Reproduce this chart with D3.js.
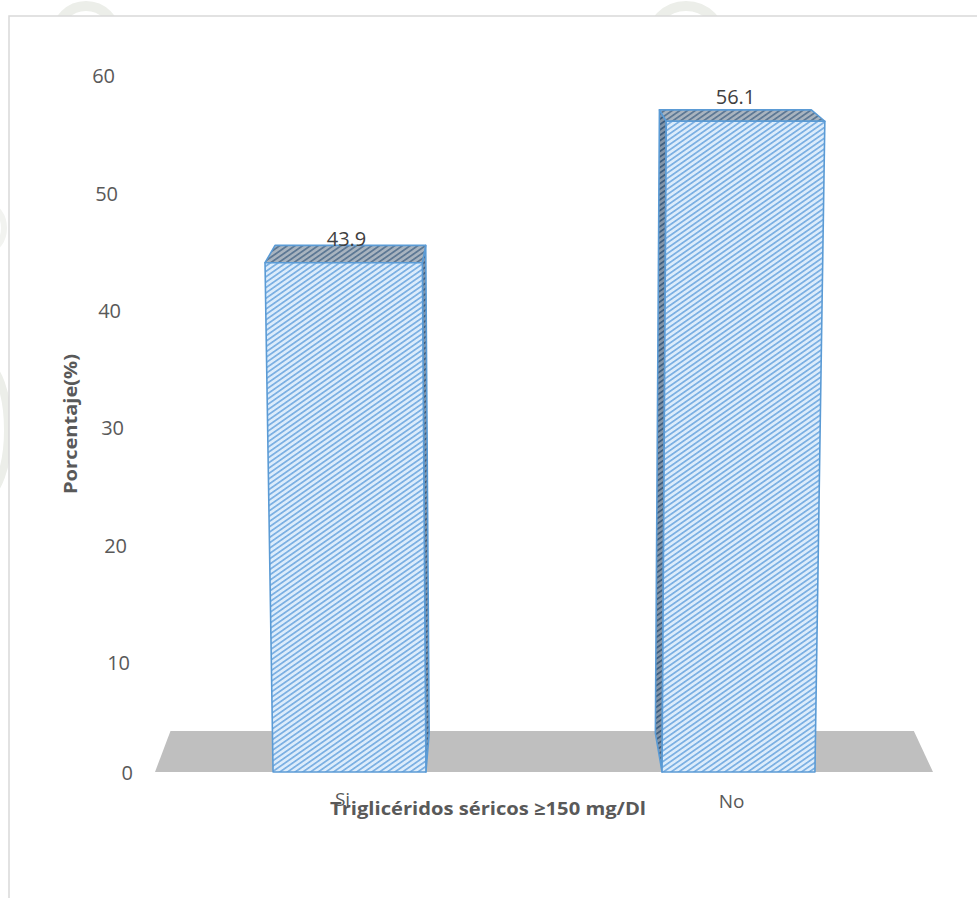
<!DOCTYPE html>
<html>
<head>
<meta charset="utf-8">
<script src="https://cdn.jsdelivr.net/npm/d3@7"></script>
<style>
  html, body { margin: 0; padding: 0; background: #fff; }
  svg { display: block; font-family: "Open Sans", Lato, sans-serif; }
</style>
</head>
<body>
<svg id="chart" width="977" height="898"></svg>
<script>
// ---- data ----
const categories = ["Si", "No"];
const values = [43.9, 56.1];
const yTicks = [0, 10, 20, 30, 40, 50, 60];
const yTitle = "Porcentaje(%)";
const xTitle = "Triglicéridos séricos ≥150 mg/Dl";

const W = 977, H = 898;
const svg = d3.select("#chart");

// ---- scales (front plane of the 3D box) ----
const base = 772;
const x = d3.scaleBand().domain(categories).range([155, 933])
  .paddingInner(0.607).paddingOuter(0.3035);
const y = d3.scaleLinear().domain([0, 60]).range([base, 76]);
// value axis labels sit on a slanted line in perspective
const tickY = d3.scaleLinear().domain([0, 10, 60]).range([773, 663, 76]);
const tickX = d3.scaleLinear().domain([0, 60]).range([133, 115]);

// ---- perspective helpers ----
const vertVP = { x: 549, y: 18250 };   // vertical edges converge far below
const depthVP = { x: 503, y: -150 };   // receding edges converge above
const barDepth = 0.042, floorDepth = 0.0445;
function front(X, Y) {
  const g = (vertVP.y - Y) / (vertVP.y - base);
  return [vertVP.x + (X - vertVP.x) * g, Y];
}
function back(p, k) {
  return [p[0] + (depthVP.x - p[0]) * k, p[1] + (depthVP.y - p[1]) * k];
}
const poly = d3.line();

// ---- patterns ----
const defs = svg.append("defs");
function hatch(id, bg, fg, size, sw) {
  const p = defs.append("pattern").attr("id", id)
    .attr("patternUnits", "userSpaceOnUse")
    .attr("width", size).attr("height", size)
    .attr("patternTransform", "rotate(-35)");
  p.append("rect").attr("width", size).attr("height", size).attr("fill", bg);
  p.append("rect").attr("width", size).attr("height", sw).attr("fill", fg);
}
hatch("hFront", "#dcecfb", "#79aee2", 4.4, 1.7);
hatch("hTop", "#a9b4bf", "#5d7894", 4.4, 1.8);
hatch("hSide", "#8596a8", "#3f5f80", 4.4, 1.8);

// ---- faint seal watermark behind the frame ----
const wm = svg.append("g").attr("fill", "none").attr("stroke", "#eceee9");
wm.append("circle").attr("cx", 86).attr("cy", 36).attr("r", 30).attr("stroke-width", 10);
wm.append("circle").attr("cx", 686).attr("cy", 42).attr("r", 36).attr("stroke-width", 10);
wm.append("ellipse").attr("cx", -16).attr("cy", 430).attr("rx", 24).attr("ry", 66).attr("stroke-width", 8);
wm.append("ellipse").attr("cx", -12).attr("cy", 228).attr("rx", 16).attr("ry", 22).attr("stroke-width", 6).attr("stroke", "#f2f3f0");

// ---- chart frame ----
svg.append("rect").attr("x", 9).attr("y", 16).attr("width", W).attr("height", H)
  .attr("fill", "#fff").attr("stroke", "#d9d9d9").attr("stroke-width", 1.5);

// ---- floor ----
const fl = [front(x.range()[0], base), front(x.range()[1], base)];
svg.append("path")
  .attr("d", poly([fl[0], fl[1], back(fl[1], floorDepth), back(fl[0], floorDepth)]) + "Z")
  .attr("fill", "#bfbfbf");

// ---- bars ----
const bars = svg.append("g");
const labels = svg.append("g");
categories.forEach((c, i) => {
  const v = values[i];
  const x0 = x(c), x1 = x(c) + x.bandwidth();
  const FBL = front(x0, base), FBR = front(x1, base);
  const FTL = front(x0, y(v)), FTR = front(x1, y(v));
  const BTL = back(FTL, barDepth), BTR = back(FTR, barDepth);
  const BBL = back(FBL, barDepth), BBR = back(FBR, barDepth);
  const g = bars.append("g").attr("stroke", "#5b9bd5").attr("stroke-width", 1.6)
    .attr("stroke-linejoin", "round");
  // side face visible on the side away from the depth vanishing point
  const side = (x0 + x1) / 2 < depthVP.x ? [FTR, BTR, BBR, FBR] : [FTL, BTL, BBL, FBL];
  g.append("path").attr("d", poly(side) + "Z").attr("fill", "url(#hSide)");
  g.append("path").attr("d", poly([FTL, BTL, BTR, FTR]) + "Z").attr("fill", "url(#hTop)");
  g.append("path").attr("d", poly([FBL, FTL, FTR, FBR]) + "Z").attr("fill", "url(#hFront)");
  // value label
  labels.append("text")
    .attr("x", x0 + x.bandwidth() / 2 - 3)
    .attr("y", y(v) - 17)
    .attr("text-anchor", "middle")
    .attr("font-size", 20).attr("fill", "#404040")
    .text(v.toFixed(1));
});

// ---- value axis labels ----
svg.append("g").selectAll("text").data(yTicks).join("text")
  .attr("x", d => tickX(d))
  .attr("y", d => tickY(d))
  .attr("dy", "0.36em")
  .attr("text-anchor", "end")
  .attr("font-size", 20).attr("fill", "#595959")
  .text(d => d);

// ---- axis titles ----
svg.append("text")
  .attr("transform", "translate(77,424) rotate(-90)")
  .attr("text-anchor", "middle")
  .attr("font-size", 18).attr("font-weight", "bold").attr("fill", "#595959")
  .attr("textLength", 140).attr("lengthAdjust", "spacingAndGlyphs")
  .text(yTitle);
svg.append("text")
  .attr("x", 488).attr("y", 815)
  .attr("text-anchor", "middle")
  .attr("font-size", 18).attr("font-weight", "bold").attr("fill", "#595959")
  .attr("textLength", 316).attr("lengthAdjust", "spacingAndGlyphs")
  .text(xTitle);

// ---- category labels ----
svg.append("g").selectAll("text").data(categories).join("text")
  .attr("x", d => x(d) + x.bandwidth() / 2 - 7)
  .attr("y", (d, i) => 806 + 2 * i)
  .attr("text-anchor", "middle")
  .attr("font-size", 19).attr("fill", "#595959")
  .text(d => d);
</script>
</body>
</html>
